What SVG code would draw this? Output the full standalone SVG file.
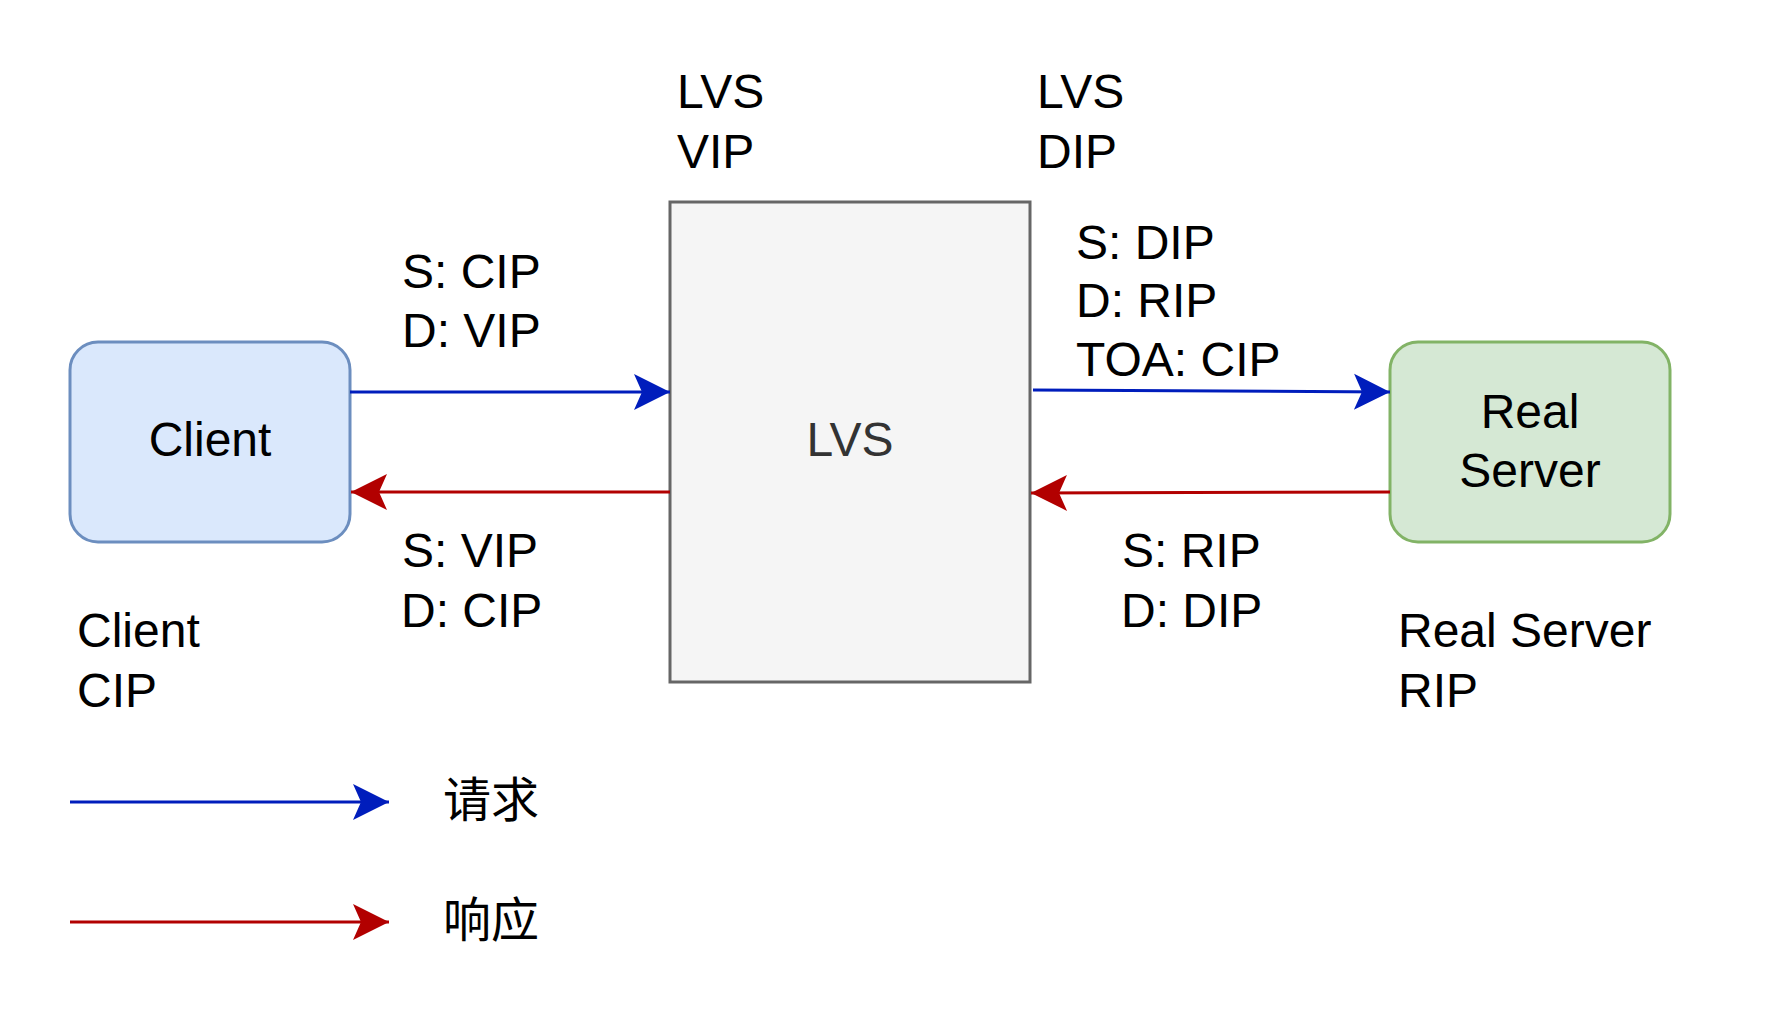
<svg xmlns="http://www.w3.org/2000/svg" width="1792" height="1024" viewBox="0 0 1792 1024">
<style>
  text { font-family: "Liberation Sans", Arial, sans-serif; font-size: 48px; fill: #000000; }
  .cjk { font-family: "Liberation Sans", "Noto Sans CJK SC", sans-serif; }
  .blue { stroke: #001DBC; stroke-width: 3; fill: none; }
  .red { stroke: #B20000; stroke-width: 3; fill: none; }
</style>
<defs>
  <marker id="arrBlue" markerUnits="userSpaceOnUse" markerWidth="40" markerHeight="40" viewBox="-38 -20 40 40" refX="0" refY="0" orient="auto">
    <path d="M0,0 L-36,-18 L-28,0 L-36,18 Z" fill="#001DBC"/>
  </marker>
  <marker id="arrRed" markerUnits="userSpaceOnUse" markerWidth="40" markerHeight="40" viewBox="-38 -20 40 40" refX="0" refY="0" orient="auto">
    <path d="M0,0 L-36,-18 L-28,0 L-36,18 Z" fill="#B20000"/>
  </marker>
</defs>
<rect x="0" y="0" width="1792" height="1024" fill="#ffffff"/>

<g id="client">
  <rect x="70" y="342" width="280" height="200" rx="28" ry="28" fill="#dae8fc" stroke="#6c8ebf" stroke-width="3"/>
  <text x="210" y="456" text-anchor="middle">Client</text>
</g>

<g id="lvs">
  <rect x="670" y="202" width="360" height="480" fill="#f5f5f5" stroke="#666666" stroke-width="3"/>
  <text x="850" y="456" text-anchor="middle" style="fill:#333333">LVS</text>
</g>

<g id="real-server">
  <rect x="1390" y="342" width="280" height="200" rx="28" ry="28" fill="#d5e8d4" stroke="#82b366" stroke-width="3"/>
  <text x="1530" y="428" text-anchor="middle">Real</text>
  <text x="1530" y="487" text-anchor="middle">Server</text>
</g>

<g id="connectors">
  <line class="blue" x1="350" y1="392" x2="670" y2="392" marker-end="url(#arrBlue)"/>
  <line class="red" x1="670" y1="492" x2="351" y2="492" marker-end="url(#arrRed)"/>
  <line class="blue" x1="1033" y1="390" x2="1390" y2="392" marker-end="url(#arrBlue)"/>
  <line class="red" x1="1390" y1="492" x2="1031" y2="493" marker-end="url(#arrRed)"/>
  <line class="blue" x1="70" y1="802" x2="389" y2="802" marker-end="url(#arrBlue)"/>
  <line class="red" x1="70" y1="922" x2="389" y2="922" marker-end="url(#arrRed)"/>
</g>

<g id="labels">
  <text x="677" y="108">LVS</text>
  <text x="677" y="168">VIP</text>
  <text x="1037" y="108">LVS</text>
  <text x="1037" y="168">DIP</text>

  <text x="402" y="288">S: CIP</text>
  <text x="402" y="347">D: VIP</text>

  <text x="402" y="567">S: VIP</text>
  <text x="401" y="627">D: CIP</text>

  <text x="1076" y="259">S: DIP</text>
  <text x="1076" y="317">D: RIP</text>
  <text x="1076" y="376">TOA: CIP</text>

  <text x="1122" y="567">S: RIP</text>
  <text x="1121" y="627">D: DIP</text>

  <text x="77" y="647">Client</text>
  <text x="77" y="707">CIP</text>

  <text x="1398" y="647">Real Server</text>
  <text x="1398" y="707">RIP</text>
</g>

<g id="legend">
  <text class="cjk" x="443" y="817">请求</text>
  <text class="cjk" x="443" y="937">响应</text>
</g>
</svg>
